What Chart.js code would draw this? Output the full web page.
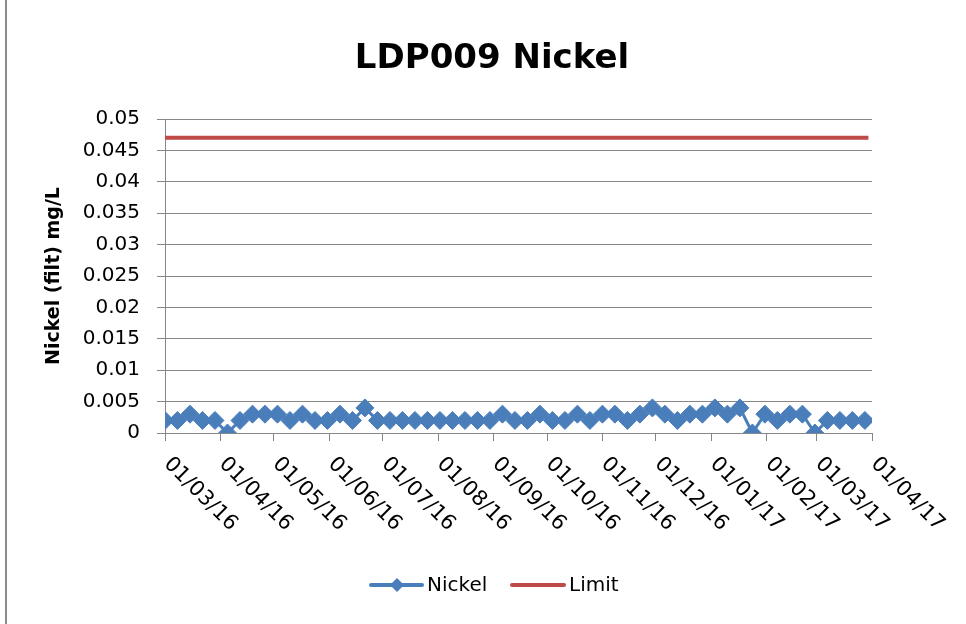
<!DOCTYPE html>
<html><head><meta charset="utf-8">
<script src="https://cdn.jsdelivr.net/npm/chart.js@4.4.1/dist/chart.umd.min.js"></script>
<style>
html,body{margin:0;padding:0;background:#fff;}
#wrap{position:relative;width:966px;height:624px;overflow:hidden;}
#frame{position:absolute;left:5px;top:0;width:2px;height:624px;background:#8c8c8c;}
canvas{position:absolute;left:0;top:0;}
</style></head><body>
<div id="wrap"><canvas id="c" width="966" height="624"></canvas><div id="frame"></div></div>
<script>
const sampleDates = [
 '2016-03-01','2016-03-08','2016-03-15','2016-03-22','2016-03-29',
 '2016-04-05','2016-04-12','2016-04-19','2016-04-26',
 '2016-05-03','2016-05-10','2016-05-17','2016-05-24','2016-05-31',
 '2016-06-07','2016-06-14','2016-06-21','2016-06-28',
 '2016-07-05','2016-07-12','2016-07-19','2016-07-26',
 '2016-08-02','2016-08-09','2016-08-16','2016-08-23','2016-08-30',
 '2016-09-06','2016-09-13','2016-09-20','2016-09-27',
 '2016-10-04','2016-10-11','2016-10-18','2016-10-25',
 '2016-11-01','2016-11-08','2016-11-15','2016-11-22','2016-11-29',
 '2016-12-06','2016-12-13','2016-12-20','2016-12-27',
 '2017-01-03','2017-01-10','2017-01-17','2017-01-24','2017-01-31',
 '2017-02-07','2017-02-14','2017-02-21','2017-02-28',
 '2017-03-07','2017-03-14','2017-03-21','2017-03-28'
];
const nickelValues = [
 0.002,0.002,0.003,0.002,0.002,
 0,0.002,0.003,0.003,
 0.003,0.002,0.003,0.002,0.002,
 0.003,0.002,0.004,0.002,
 0.002,0.002,0.002,0.002,
 0.002,0.002,0.002,0.002,0.002,
 0.003,0.002,0.002,0.003,
 0.002,0.002,0.003,0.002,
 0.003,0.003,0.002,0.003,0.004,
 0.003,0.002,0.003,0.003,
 0.004,0.003,0.004,0,0.003,
 0.002,0.003,0.003,0,
 0.002,0.002,0.002,0.002
];
const limitDates = ['2016-03-01','2017-03-30'];
const limitValues = [0.047, 0.047];
const xTickLabels = ['01/03/16','01/04/16','01/05/16','01/06/16','01/07/16','01/08/16','01/09/16',
 '01/10/16','01/11/16','01/12/16','01/01/17','01/02/17','01/03/17','01/04/17'];
const yTickValues = [0,0.005,0.01,0.015,0.02,0.025,0.03,0.035,0.04,0.045,0.05];
const chartTitle = 'LDP009 Nickel';
const yTitle = 'Nickel (filt) mg/L';

const DAY0 = Date.UTC(2016,2,1);
const isoToDay = s => (Date.parse(s+'T00:00:00Z') - DAY0) / 86400000;
const labelToDay = s => { const [d,m,y] = s.split('/').map(Number); return (Date.UTC(2000+y, m-1, d) - DAY0) / 86400000; };

const FONT = '"DejaVu Sans"';
const BLUE = '#4A7EBB', RED = '#BE4B48', GRID = '#868686';

const titlePlugin = {
  id:'titleText',
  afterDraw(chart){
    const ctx = chart.ctx;
    ctx.save();
    ctx.font = 'bold 34px ' + FONT; ctx.fillStyle = '#000';
    ctx.textAlign = 'center'; ctx.textBaseline = 'middle';
    ctx.fillText(chartTitle, 492, 59);
    ctx.restore();
  }
};
const xLabelPlugin = {
  id:'xLabels',
  afterDraw(chart){
    const xs = chart.scales.x, ctx = chart.ctx;
    ctx.save();
    ctx.font = '21px ' + FONT; ctx.fillStyle = '#000';
    ctx.textAlign = 'left'; ctx.textBaseline = 'middle';
    xTickLabels.forEach(lab => {
      const px = xs.getPixelForValue(labelToDay(lab));
      ctx.save(); ctx.translate(px + 2, xs.top + 28); ctx.rotate(Math.PI/4);
      ctx.fillText(lab, 0, 0); ctx.restore();
    });
    ctx.restore();
  }
};
const legendPlugin = {
  id:'customLegend',
  afterDraw(chart){
    const ctx = chart.ctx; const y = 585;
    ctx.save();
    ctx.font = '20px ' + FONT; ctx.fillStyle = '#000'; ctx.textBaseline = 'middle'; ctx.textAlign='left';
    ctx.lineCap = 'round';
    ctx.strokeStyle = BLUE; ctx.lineWidth = 4;
    ctx.beginPath(); ctx.moveTo(371, y); ctx.lineTo(422, y); ctx.stroke();
    ctx.fillStyle = BLUE; ctx.beginPath();
    ctx.moveTo(397, y-7); ctx.lineTo(404, y); ctx.lineTo(397, y+7); ctx.lineTo(390, y); ctx.closePath(); ctx.fill();
    ctx.fillStyle = '#000'; ctx.fillText(chart.data.datasets[0].label, 427, y+1);
    ctx.strokeStyle = RED; ctx.lineWidth = 4;
    ctx.beginPath(); ctx.moveTo(512, y); ctx.lineTo(564, y); ctx.stroke();
    ctx.fillText(chart.data.datasets[1].label, 569, y+1);
    ctx.restore();
  }
};

new Chart(document.getElementById('c'), {
  type:'line',
  data:{datasets:[
    {label:'Nickel', data: sampleDates.map((d,i)=>({x:isoToDay(d), y:nickelValues[i]})),
     borderColor:BLUE, backgroundColor:BLUE, borderWidth:3, pointStyle:'rectRot', pointRadius:9,
     pointBackgroundColor:BLUE, pointBorderColor:BLUE, pointBorderWidth:1, tension:0},
    {label:'Limit', data: limitDates.map((d,i)=>({x:isoToDay(d), y:limitValues[i]})),
     borderColor:RED, backgroundColor:RED, borderWidth:4, pointRadius:0, tension:0}
  ]},
  options:{
    responsive:false, animation:false, devicePixelRatio:1,
    layout:{padding:{left:43, right:94, top:119, bottom:0}},
    plugins:{ legend:{display:false}, tooltip:{enabled:false}, title:{display:false} },
    scales:{
      x:{type:'linear', min:0, max:labelToDay(xTickLabels[xTickLabels.length-1]),
        afterBuildTicks:s=>{ s.ticks = xTickLabels.map(l=>({value:labelToDay(l)})); },
        ticks:{display:false},
        grid:{drawOnChartArea:false, drawTicks:true, tickLength:8, color:GRID, lineWidth:1},
        border:{color:GRID, width:1},
        afterFit:s=>{ s.height = 191; }
      },
      y:{type:'linear', min:0, max:0.05,
        afterBuildTicks:s=>{ s.ticks = yTickValues.map(v=>({value:v})); },
        ticks:{color:'#000', padding:17, font:{family:'DejaVu Sans', size:20},
          callback:(v)=> String(v)},
        grid:{color:GRID, tickLength:8, lineWidth:1},
        border:{color:GRID, width:1},
        title:{display:true, text:yTitle, color:'#000',
          font:{family:'DejaVu Sans', size:19, weight:'bold'}, padding:{top:0,bottom:0}},
        afterFit:s=>{ s.width = 122; }
      }
    }
  },
  plugins:[titlePlugin, xLabelPlugin, legendPlugin]
});
</script>
</body></html>
